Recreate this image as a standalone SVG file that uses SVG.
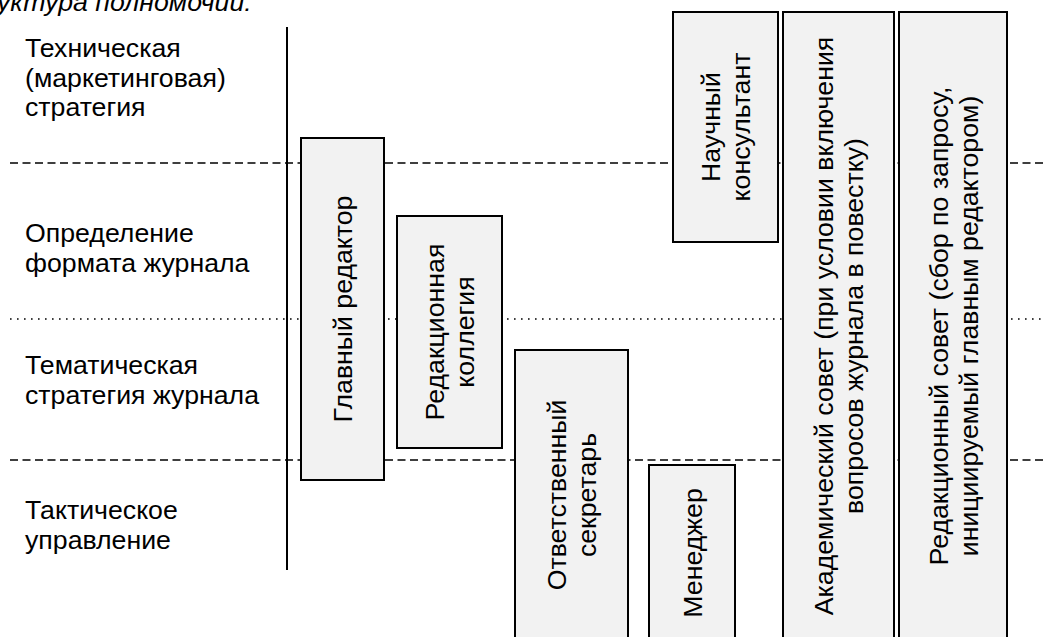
<svg xmlns="http://www.w3.org/2000/svg" width="1044" height="637" viewBox="0 0 1044 637">
<style>
text { font-family: "Liberation Sans", Arial, sans-serif; font-size: 26.7px; fill: #000; }
.lbl { text-anchor: start; }
.nt { text-anchor: middle; }
.box { fill: #f2f2f2; stroke: #000; stroke-width: 2; }
.dash { stroke: #000; stroke-width: 1.6; stroke-dasharray: 8 4.5; fill: none; }
.dot { stroke: #000; stroke-width: 1.6; stroke-dasharray: 1.6 5.4; fill: none; }
.axis { stroke: #000; stroke-width: 2; fill: none; }
</style>
<rect width="1044" height="637" fill="#fff"/>
<text x="-3" y="10.5" font-style="italic" class="lbl">уктура полномочий:</text>
<g id="levels">
<text class="lbl" x="25" y="57">Техническая</text>
<text class="lbl" x="25" y="87">(маркетинговая)</text>
<text class="lbl" x="25" y="116">стратегия</text>
<text class="lbl" x="25" y="242">Определение</text>
<text class="lbl" x="25" y="272">формата журнала</text>
<text class="lbl" x="25" y="374">Тематическая</text>
<text class="lbl" x="25" y="404">стратегия журнала</text>
<text class="lbl" x="25" y="519">Тактическое</text>
<text class="lbl" x="25" y="549">управление</text>
</g>
<g id="connectors">
<line class="dash" x1="10" y1="163" x2="1044" y2="163"/>
<line class="dot" x1="10" y1="319" x2="1044" y2="319"/>
<line class="dash" x1="10" y1="460" x2="1044" y2="460"/>
<line class="axis" x1="287" y1="27" x2="287" y2="570"/>
</g>
<g id="n1">
<rect class="box" x="301" y="138" width="83" height="342"/>
<text class="nt" transform="translate(342.5,309) rotate(-90)" x="0" y="9.5">Главный редактор</text>
</g>
<g id="n2">
<rect class="box" x="397" y="216" width="105" height="232"/>
<text class="nt" transform="translate(449.5,332) rotate(-90)" x="0" y="-5.5">Редакционная</text>
<text class="nt" transform="translate(449.5,332) rotate(-90)" x="0" y="24.5">коллегия</text>
</g>
<g id="n3">
<rect class="box" x="515" y="350" width="113" height="292"/>
<text class="nt" transform="translate(571.5,495) rotate(-90)" x="0" y="-5.5">Ответственный</text>
<text class="nt" transform="translate(571.5,495) rotate(-90)" x="0" y="24.5">секретарь</text>
</g>
<g id="n4">
<rect class="box" x="649" y="465" width="86" height="180"/>
<text class="nt" transform="translate(692,553) rotate(-90)" x="0" y="9.5">Менеджер</text>
</g>
<g id="n5">
<rect class="box" x="673" y="12" width="105" height="230"/>
<text class="nt" transform="translate(725.5,127) rotate(-90)" x="0" y="-5.5">Научный</text>
<text class="nt" transform="translate(725.5,127) rotate(-90)" x="0" y="24.5">консультант</text>
</g>
<g id="n6">
<rect class="box" x="783" y="12" width="111" height="632"/>
<text class="nt" transform="translate(838.5,326) rotate(-90)" x="0" y="-5.5">Академический совет (при условии включения</text>
<text class="nt" transform="translate(838.5,326) rotate(-90)" x="0" y="24.5">вопросов журнала в повестку)</text>
</g>
<g id="n7">
<rect class="box" x="899" y="12" width="108" height="632"/>
<text class="nt" transform="translate(953,326) rotate(-90)" x="0" y="-5.5">Редакционный совет (сбор по запросу,</text>
<text class="nt" transform="translate(953,326) rotate(-90)" x="0" y="24.5">инициируемый главным редактором)</text>
</g>
</svg>
